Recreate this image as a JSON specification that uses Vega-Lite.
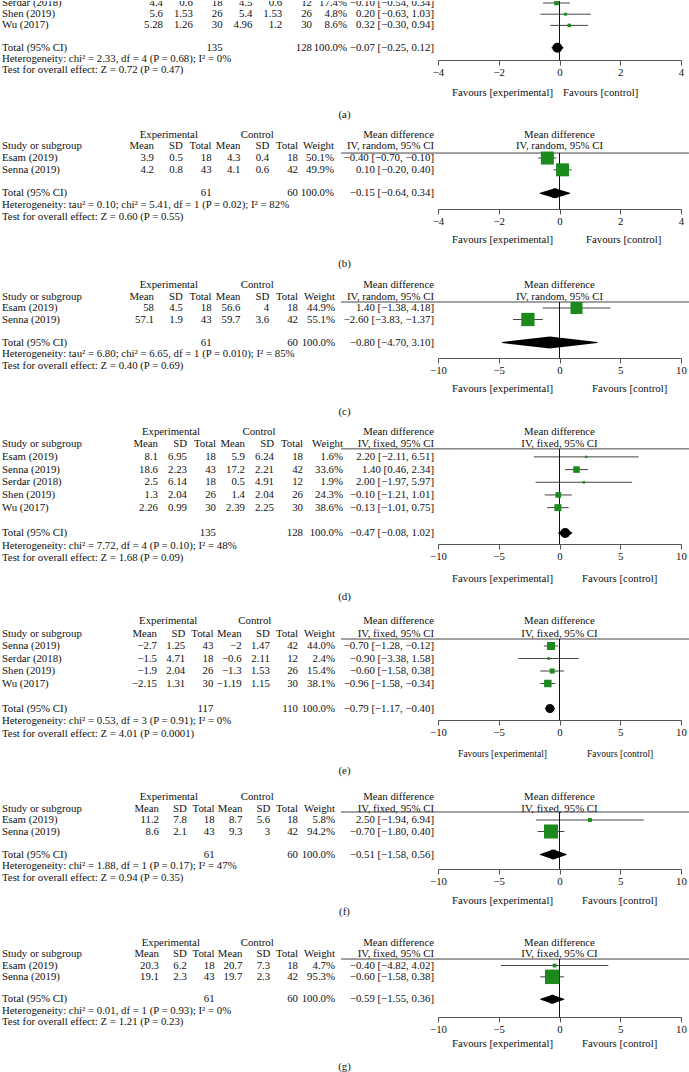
{
"$schema": "https://vega.github.io/schema/vega-lite/v6.json",
"padding": 0,
"spacing": 0,
"bounds": "flush",
"background": "white",
"config": {
  "view": {"stroke": null},
  "text": {"font": "Liberation Serif", "fontSize": 10.8, "color": "#111"},
  "axis": {"labelFont": "Liberation Serif", "labelFontSize": 10.8, "labelColor": "#111", "domainColor": "#555", "tickColor": "#555", "grid": false, "labelFlush": false, "tickSize": 5, "labelPadding": 1}
},
"datasets": {
  "a": [
    {"slot":"r3","study":"Serdar (2018)","me":"4.4","sde":"0.6","ne":"18","mc":"4.5","sdc":"0.6","nc":"12","w":"17.4%","ci":"−0.10 [−0.54, 0.34]","md":-0.10,"lo":-0.54,"hi":0.34,"wt":17.4},
    {"slot":"r4","study":"Shen (2019)","me":"5.6","sde":"1.53","ne":"26","mc":"5.4","sdc":"1.53","nc":"26","w":"4.8%","ci":"0.20 [−0.63, 1.03]","md":0.20,"lo":-0.63,"hi":1.03,"wt":4.8},
    {"slot":"r5","study":"Wu (2017)","me":"5.28","sde":"1.26","ne":"30","mc":"4.96","sdc":"1.2","nc":"30","w":"8.6%","ci":"0.32 [−0.30, 0.94]","md":0.32,"lo":-0.30,"hi":0.94,"wt":8.6},
    {"slot":"tot","study":"Total (95% CI)","ne":"135","nc":"128","w":"100.0%","ci":"−0.07 [−0.25, 0.12]","md":-0.07,"lo":-0.25,"hi":0.12},
    {"slot":"het","study":"Heterogeneity: chi² = 2.33, df = 4 (P = 0.68); I² = 0%"},
    {"slot":"test","study":"Test for overall effect: Z = 0.72 (P = 0.47)"},
    {"slot":"fav","fe":"Favours [experimental]","fc":"Favours [control]"},
    {"slot":"cap","cap":"(a)"}
  ],
  "b": [
    {"slot":"h1","eh":"Experimental","ch":"Control","ci":"Mean difference"},
    {"slot":"h2","study":"Study or subgroup","me":"Mean","sde":"SD","ne":"Total","mc":"Mean","sdc":"SD","nc":"Total","w":"Weight","ci":"IV, random, 95% CI"},
    {"slot":"r1","study":"Esam (2019)","me":"3.9","sde":"0.5","ne":"18","mc":"4.3","sdc":"0.4","nc":"18","w":"50.1%","ci":"−0.40 [−0.70, −0.10]","md":-0.40,"lo":-0.70,"hi":-0.10,"wt":50.1},
    {"slot":"r2","study":"Senna (2019)","me":"4.2","sde":"0.8","ne":"43","mc":"4.1","sdc":"0.6","nc":"42","w":"49.9%","ci":"0.10 [−0.20, 0.40]","md":0.10,"lo":-0.20,"hi":0.40,"wt":49.9},
    {"slot":"tot","study":"Total (95% CI)","ne":"61","nc":"60","w":"100.0%","ci":"−0.15 [−0.64, 0.34]","md":-0.15,"lo":-0.64,"hi":0.34},
    {"slot":"het","study":"Heterogeneity: tau² = 0.10; chi² = 5.41, df = 1 (P = 0.02); I² = 82%"},
    {"slot":"test","study":"Test for overall effect: Z = 0.60 (P = 0.55)"},
    {"slot":"fav","fe":"Favours [experimental]","fc":"Favours [control]"},
    {"slot":"cap","cap":"(b)"}
  ],
  "c": [
    {"slot":"h1","eh":"Experimental","ch":"Control","ci":"Mean difference"},
    {"slot":"h2","study":"Study or subgroup","me":"Mean","sde":"SD","ne":"Total","mc":"Mean","sdc":"SD","nc":"Total","w":"Weight","ci":"IV, random, 95% CI"},
    {"slot":"r1","study":"Esam (2019)","me":"58","sde":"4.5","ne":"18","mc":"56.6","sdc":"4","nc":"18","w":"44.9%","ci":"1.40 [−1.38, 4.18]","md":1.40,"lo":-1.38,"hi":4.18,"wt":44.9},
    {"slot":"r2","study":"Senna (2019)","me":"57.1","sde":"1.9","ne":"43","mc":"59.7","sdc":"3.6","nc":"42","w":"55.1%","ci":"−2.60 [−3.83, −1.37]","md":-2.60,"lo":-3.83,"hi":-1.37,"wt":55.1},
    {"slot":"tot","study":"Total (95% CI)","ne":"61","nc":"60","w":"100.0%","ci":"−0.80 [−4.70, 3.10]","md":-0.80,"lo":-4.70,"hi":3.10},
    {"slot":"het","study":"Heterogeneity: tau² = 6.80; chi² = 6.65, df = 1 (P = 0.010); I² = 85%"},
    {"slot":"test","study":"Test for overall effect: Z = 0.40 (P = 0.69)"},
    {"slot":"fav","fe":"Favours [experimental]","fc":"Favours [control]"},
    {"slot":"cap","cap":"(c)"}
  ],
  "d": [
    {"slot":"h1","eh":"Experimental","ch":"Control","ci":"Mean difference"},
    {"slot":"h2","study":"Study or subgroup","me":"Mean","sde":"SD","ne":"Total","mc":"Mean","sdc":"SD","nc":"Total","w":"Weight","ci":"IV, fixed, 95% CI"},
    {"slot":"r1","study":"Esam (2019)","me":"8.1","sde":"6.95","ne":"18","mc":"5.9","sdc":"6.24","nc":"18","w":"1.6%","ci":"2.20 [−2.11, 6.51]","md":2.20,"lo":-2.11,"hi":6.51,"wt":1.6},
    {"slot":"r2","study":"Senna (2019)","me":"18.6","sde":"2.23","ne":"43","mc":"17.2","sdc":"2.21","nc":"42","w":"33.6%","ci":"1.40 [0.46, 2.34]","md":1.40,"lo":0.46,"hi":2.34,"wt":33.6},
    {"slot":"r3","study":"Serdar (2018)","me":"2.5","sde":"6.14","ne":"18","mc":"0.5","sdc":"4.91","nc":"12","w":"1.9%","ci":"2.00 [−1.97, 5.97]","md":2.00,"lo":-1.97,"hi":5.97,"wt":1.9},
    {"slot":"r4","study":"Shen (2019)","me":"1.3","sde":"2.04","ne":"26","mc":"1.4","sdc":"2.04","nc":"26","w":"24.3%","ci":"−0.10 [−1.21, 1.01]","md":-0.10,"lo":-1.21,"hi":1.01,"wt":24.3},
    {"slot":"r5","study":"Wu (2017)","me":"2.26","sde":"0.99","ne":"30","mc":"2.39","sdc":"2.25","nc":"30","w":"38.6%","ci":"−0.13 [−1.01, 0.75]","md":-0.13,"lo":-1.01,"hi":0.75,"wt":38.6},
    {"slot":"tot","study":"Total (95% CI)","ne":"135","nc":"128","w":"100.0%","ci":"−0.47 [−0.08, 1.02]","md":0.47,"lo":-0.08,"hi":1.02},
    {"slot":"het","study":"Heterogeneity: chi² = 7.72, df = 4 (P = 0.10); I² = 48%"},
    {"slot":"test","study":"Test for overall effect: Z = 1.68 (P = 0.09)"},
    {"slot":"fav","fe":"Favours [experimental]","fc":"Favours [control]"},
    {"slot":"cap","cap":"(d)"}
  ],
  "e": [
    {"slot":"h1","eh":"Experimental","ch":"Control","ci":"Mean difference"},
    {"slot":"h2","study":"Study or subgroup","me":"Mean","sde":"SD","ne":"Total","mc":"Mean","sdc":"SD","nc":"Total","w":"Weight","ci":"IV, fixed, 95% CI"},
    {"slot":"r1","study":"Senna (2019)","me":"−2.7","sde":"1.25","ne":"43","mc":"−2","sdc":"1.47","nc":"42","w":"44.0%","ci":"−0.70 [−1.28, −0.12]","md":-0.70,"lo":-1.28,"hi":-0.12,"wt":44.0},
    {"slot":"r2","study":"Serdar (2018)","me":"−1.5","sde":"4.71","ne":"18","mc":"−0.6","sdc":"2.11","nc":"12","w":"2.4%","ci":"−0.90 [−3.38, 1.58]","md":-0.90,"lo":-3.38,"hi":1.58,"wt":2.4},
    {"slot":"r3","study":"Shen (2019)","me":"−1.9","sde":"2.04","ne":"26","mc":"−1.3","sdc":"1.53","nc":"26","w":"15.4%","ci":"−0.60 [−1.58, 0.38]","md":-0.60,"lo":-1.58,"hi":0.38,"wt":15.4},
    {"slot":"r4","study":"Wu (2017)","me":"−2.15","sde":"1.31","ne":"30","mc":"−1.19","sdc":"1.15","nc":"30","w":"38.1%","ci":"−0.96 [−1.58, −0.34]","md":-0.96,"lo":-1.58,"hi":-0.34,"wt":38.1},
    {"slot":"tot","study":"Total (95% CI)","ne":"117","nc":"110","w":"100.0%","ci":"−0.79 [−1.17, −0.40]","md":-0.79,"lo":-1.17,"hi":-0.40},
    {"slot":"het","study":"Heterogeneity: chi² = 0.53, df = 3 (P = 0.91); I² = 0%"},
    {"slot":"test","study":"Test for overall effect: Z = 4.01 (P = 0.0001)"},
    {"slot":"fav","fe":"Favours [experimental]","fc":"Favours [control]"},
    {"slot":"cap","cap":"(e)"}
  ],
  "f": [
    {"slot":"h1","eh":"Experimental","ch":"Control","ci":"Mean difference"},
    {"slot":"h2","study":"Study or subgroup","me":"Mean","sde":"SD","ne":"Total","mc":"Mean","sdc":"SD","nc":"Total","w":"Weight","ci":"IV, fixed, 95% CI"},
    {"slot":"r1","study":"Esam (2019)","me":"11.2","sde":"7.8","ne":"18","mc":"8.7","sdc":"5.6","nc":"18","w":"5.8%","ci":"2.50 [−1.94, 6.94]","md":2.50,"lo":-1.94,"hi":6.94,"wt":5.8},
    {"slot":"r2","study":"Senna (2019)","me":"8.6","sde":"2.1","ne":"43","mc":"9.3","sdc":"3","nc":"42","w":"94.2%","ci":"−0.70 [−1.80, 0.40]","md":-0.70,"lo":-1.80,"hi":0.40,"wt":94.2},
    {"slot":"tot","study":"Total (95% CI)","ne":"61","nc":"60","w":"100.0%","ci":"−0.51 [−1.58, 0.56]","md":-0.51,"lo":-1.58,"hi":0.56},
    {"slot":"het","study":"Heterogeneity: chi² = 1.88, df = 1 (P = 0.17); I² = 47%"},
    {"slot":"test","study":"Test for overall effect: Z = 0.94 (P = 0.35)"},
    {"slot":"fav","fe":"Favours [experimental]","fc":"Favours [control]"},
    {"slot":"cap","cap":"(f)"}
  ],
  "g": [
    {"slot":"h1","eh":"Experimental","ch":"Control","ci":"Mean difference"},
    {"slot":"h2","study":"Study or subgroup","me":"Mean","sde":"SD","ne":"Total","mc":"Mean","sdc":"SD","nc":"Total","w":"Weight","ci":"IV, fixed, 95% CI"},
    {"slot":"r1","study":"Esam (2019)","me":"20.3","sde":"6.2","ne":"18","mc":"20.7","sdc":"7.3","nc":"18","w":"4.7%","ci":"−0.40 [−4.82, 4.02]","md":-0.40,"lo":-4.82,"hi":4.02,"wt":4.7},
    {"slot":"r2","study":"Senna (2019)","me":"19.1","sde":"2.3","ne":"43","mc":"19.7","sdc":"2.3","nc":"42","w":"95.3%","ci":"−0.60 [−1.58, 0.38]","md":-0.60,"lo":-1.58,"hi":0.38,"wt":95.3},
    {"slot":"tot","study":"Total (95% CI)","ne":"61","nc":"60","w":"100.0%","ci":"−0.59 [−1.55, 0.36]","md":-0.59,"lo":-1.55,"hi":0.36},
    {"slot":"het","study":"Heterogeneity: chi² = 0.01, df = 1 (P = 0.93); I² = 0%"},
    {"slot":"test","study":"Test for overall effect: Z = 1.21 (P = 0.23)"},
    {"slot":"fav","fe":"Favours [experimental]","fc":"Favours [control]"},
    {"slot":"cap","cap":"(g)"}
  ]
},
"vconcat": [
{
  "width": 689, "height": 132,
  "data": {"name": "a"},
  "encoding": {"y": {"field": "slot", "type": "nominal", "axis": null, "scale": {"type": "point", "padding": 0, "domain": ["r3","r4","r5","g","tot","het","test","x1","fav","x2","cap"], "range": [2, 114]}}},
  "resolve": {"scale": {"x": "independent"}, "axis": {"x": "independent"}},
  "layer": [
    {"transform": [{"filter": "isValid(datum.study)"}], "mark": {"type": "text", "align": "left", "dx": 2, "clip": true}, "encoding": {"x": {"value": 0}, "text": {"field": "study"}}},
    {"transform": [{"filter": "isValid(datum.cap)"}], "mark": {"type": "text", "align": "center", "clip": true}, "encoding": {"x": {"value": {"expr": "width / 2"}}, "text": {"field": "cap"}}},
    {"transform": [{"fold": ["me","sde","ne","mc","sdc","nc"], "as": ["key","val"]}, {"filter": "isValid(datum.val)"}], "mark": {"type": "text", "align": "right", "clip": true}, "encoding": {"x": {"field": "key", "type": "nominal", "axis": null, "scale": {"type": "point", "padding": 0, "domain": ["me","sde","ne","mc","sdc","nc"], "range": [163, 312]}}, "text": {"field": "val"}}},
    {"transform": [{"filter": "isValid(datum.w)"}], "mark": {"type": "text", "align": "right", "dx": 35, "clip": true}, "encoding": {"x": {"datum": "nc", "type": "nominal", "axis": null, "scale": {"type": "point", "padding": 0, "domain": ["me","sde","ne","mc","sdc","nc"], "range": [163, 312]}}, "text": {"field": "w"}}},
    {"transform": [{"filter": "isValid(datum.wt)"}], "mark": {"type": "rule", "color": "#444", "strokeWidth": 1, "clip": true}, "encoding": {"x": {"field": "lo", "type": "quantitative", "scale": {"domain": [-4, 4], "range": [438, 681], "nice": false, "zero": false}, "axis": {"orient": "bottom", "offset": -73, "values": [-4, -2, 0, 2, 4], "title": null, "format": "d", "encode": {"ticks": {"update": {"y": {"value": -5}}}}}}, "x2": {"field": "hi"}}},
    {"transform": [{"filter": "isValid(datum.ci)"}], "mark": {"type": "text", "align": "right", "dx": -4, "clip": true}, "encoding": {"x": {"datum": -4, "type": "quantitative", "axis": null, "scale": {"domain": [-4, 4], "range": [438, 681], "nice": false, "zero": false}}, "text": {"field": "ci"}}},
    {"transform": [{"filter": "datum.slot == 'cap'"}], "mark": {"type": "rule", "color": "#111", "strokeWidth": 1, "yOffset": 0, "y2Offset": -73}, "encoding": {"x": {"datum": 0, "type": "quantitative", "axis": null, "scale": {"domain": [-4, 4], "range": [438, 681], "nice": false, "zero": false}}, "y": {"value": 0}, "y2": {"value": "height"}}},
    {"transform": [{"filter": "isValid(datum.wt)"}], "mark": {"type": "point", "shape": "square", "filled": true, "opacity": 1, "color": "#1c8a1c", "strokeWidth": 0, "clip": true}, "encoding": {"x": {"field": "md", "type": "quantitative", "axis": null, "scale": {"domain": [-4, 4], "range": [438, 681], "nice": false, "zero": false}}, "size": {"field": "wt", "type": "quantitative", "legend": null, "scale": {"domain": [0, 100], "range": [4, 100]}}}},
    {"transform": [{"filter": "datum.slot == 'tot'"}, {"fold": ["lo","md","hi"], "as": ["vk","vx"]}], "mark": {"type": "trail", "color": "#000", "clip": true}, "encoding": {"x": {"field": "vx", "type": "quantitative", "axis": null, "scale": {"domain": [-4, 4], "range": [438, 681], "nice": false, "zero": false}}, "size": {"field": "vk", "type": "nominal", "legend": null, "scale": {"type": "ordinal", "domain": ["lo","md","hi"], "range": [0, 10, 0]}}, "order": {"field": "vx", "type": "quantitative"}}},
    {"transform": [{"filter": "isValid(datum.fe)"}], "mark": {"type": "text", "align": "right", "dx": -6.5, "clip": true}, "encoding": {"x": {"datum": 0, "type": "quantitative", "axis": null, "scale": {"domain": [-4, 4], "range": [438, 681], "nice": false, "zero": false}}, "text": {"field": "fe"}}},
    {"transform": [{"filter": "isValid(datum.fc)"}], "mark": {"type": "text", "align": "left", "dx": 3.5, "clip": true}, "encoding": {"x": {"datum": 0, "type": "quantitative", "axis": null, "scale": {"domain": [-4, 4], "range": [438, 681], "nice": false, "zero": false}}, "text": {"field": "fc"}}}
  ]
},
{
  "width": 689, "height": 150,
  "data": {"name": "b"},
  "encoding": {"y": {"field": "slot", "type": "nominal", "axis": null, "scale": {"type": "point", "padding": 0, "domain": ["h1","h2","r1","r2","g","tot","het","test","x1","fav","x2","cap"], "range": [1.5, 131]}}},
  "resolve": {"scale": {"x": "independent"}, "axis": {"x": "independent"}},
  "layer": [
    {"transform": [{"filter": "isValid(datum.study)"}], "mark": {"type": "text", "align": "left", "dx": 2}, "encoding": {"x": {"value": 0}, "text": {"field": "study"}}},
    {"transform": [{"filter": "isValid(datum.cap)"}], "mark": {"type": "text", "align": "center"}, "encoding": {"x": {"value": {"expr": "width / 2"}}, "text": {"field": "cap"}}},
    {"transform": [{"fold": ["me","sde","ne","mc","sdc","nc"], "as": ["key","val"]}, {"filter": "isValid(datum.val)"}], "mark": {"type": "text", "align": "right"}, "encoding": {"x": {"field": "key", "type": "nominal", "axis": null, "scale": {"type": "point", "padding": 0, "domain": ["me","sde","ne","mc","sdc","nc"], "range": [154, 298]}}, "text": {"field": "val"}}},
    {"transform": [{"filter": "isValid(datum.w)"}], "mark": {"type": "text", "align": "right", "dx": 36}, "encoding": {"x": {"datum": "nc", "type": "nominal", "axis": null, "scale": {"type": "point", "padding": 0, "domain": ["me","sde","ne","mc","sdc","nc"], "range": [154, 298]}}, "text": {"field": "w"}}},
    {"transform": [{"filter": "isValid(datum.eh)"}], "mark": {"type": "text", "align": "center", "dx": -14}, "encoding": {"x": {"datum": "sde", "type": "nominal", "axis": null, "scale": {"type": "point", "padding": 0, "domain": ["me","sde","ne","mc","sdc","nc"], "range": [154, 298]}}, "text": {"field": "eh"}}},
    {"transform": [{"filter": "isValid(datum.ch)"}], "mark": {"type": "text", "align": "center", "dx": -12}, "encoding": {"x": {"datum": "sdc", "type": "nominal", "axis": null, "scale": {"type": "point", "padding": 0, "domain": ["me","sde","ne","mc","sdc","nc"], "range": [154, 298]}}, "text": {"field": "ch"}}},
    {"transform": [{"filter": "isValid(datum.wt)"}], "mark": {"type": "rule", "color": "#444", "strokeWidth": 1}, "encoding": {"x": {"field": "lo", "type": "quantitative", "scale": {"domain": [-4, 4], "range": [438, 681], "nice": false, "zero": false}, "axis": {"orient": "bottom", "offset": -74, "values": [-4, -2, 0, 2, 4], "title": null, "format": "d", "encode": {"ticks": {"update": {"y": {"value": -5}}}}}}, "x2": {"field": "hi"}}},
    {"transform": [{"filter": "isValid(datum.ci)"}], "mark": {"type": "text", "align": "right", "dx": -4}, "encoding": {"x": {"datum": -4, "type": "quantitative", "axis": null, "scale": {"domain": [-4, 4], "range": [438, 681], "nice": false, "zero": false}}, "text": {"field": "ci"}}},
    {"transform": [{"filter": "datum.slot == 'h1' || datum.slot == 'h2'"}], "mark": {"type": "text", "align": "center"}, "encoding": {"x": {"datum": 0, "type": "quantitative", "axis": null, "scale": {"domain": [-4, 4], "range": [438, 681], "nice": false, "zero": false}}, "text": {"field": "ci"}}},
    {"transform": [{"filter": "datum.slot == 'cap'"}], "mark": {"type": "rule", "color": "#444", "strokeWidth": 1, "yOffset": -5}, "encoding": {"x": {"datum": -7.19, "type": "quantitative", "axis": null, "scale": {"domain": [-4, 4], "range": [438, 681], "nice": false, "zero": false}}, "x2": {"datum": 4.26}, "y": {"datum": "r1", "type": "nominal"}}},
    {"transform": [{"filter": "datum.slot == 'cap'"}], "mark": {"type": "rule", "color": "#111", "strokeWidth": 1, "yOffset": 20, "y2Offset": -74}, "encoding": {"x": {"datum": 0, "type": "quantitative", "axis": null, "scale": {"domain": [-4, 4], "range": [438, 681], "nice": false, "zero": false}}, "y": {"value": 0}, "y2": {"value": "height"}}},
    {"transform": [{"filter": "isValid(datum.wt)"}], "mark": {"type": "point", "shape": "square", "filled": true, "opacity": 1, "color": "#1c8a1c", "strokeWidth": 0}, "encoding": {"x": {"field": "md", "type": "quantitative", "axis": null, "scale": {"domain": [-4, 4], "range": [438, 681], "nice": false, "zero": false}}, "size": {"field": "wt", "type": "quantitative", "legend": null, "scale": {"domain": [0, 100], "range": [4, 333]}}}},
    {"transform": [{"filter": "datum.slot == 'tot'"}, {"fold": ["lo","md","hi"], "as": ["vk","vx"]}], "mark": {"type": "trail", "color": "#000"}, "encoding": {"x": {"field": "vx", "type": "quantitative", "axis": null, "scale": {"domain": [-4, 4], "range": [438, 681], "nice": false, "zero": false}}, "size": {"field": "vk", "type": "nominal", "legend": null, "scale": {"type": "ordinal", "domain": ["lo","md","hi"], "range": [0, 10, 0]}}, "order": {"field": "vx", "type": "quantitative"}}},
    {"transform": [{"filter": "isValid(datum.fe)"}], "mark": {"type": "text", "align": "right", "dx": -6.5}, "encoding": {"x": {"datum": 0, "type": "quantitative", "axis": null, "scale": {"domain": [-4, 4], "range": [438, 681], "nice": false, "zero": false}}, "text": {"field": "fe"}}},
    {"transform": [{"filter": "isValid(datum.fc)"}], "mark": {"type": "text", "align": "left", "dx": 26.5}, "encoding": {"x": {"datum": 0, "type": "quantitative", "axis": null, "scale": {"domain": [-4, 4], "range": [438, 681], "nice": false, "zero": false}}, "text": {"field": "fc"}}}
  ]
},
{
  "width": 689, "height": 147,
  "data": {"name": "c"},
  "encoding": {"y": {"field": "slot", "type": "nominal", "axis": null, "scale": {"type": "point", "padding": 0, "domain": ["h1","h2","r1","r2","g","tot","het","test","x1","fav","x2","cap"], "range": [2, 128.5]}}},
  "resolve": {"scale": {"x": "independent"}, "axis": {"x": "independent"}},
  "layer": [
    {"transform": [{"filter": "isValid(datum.study)"}], "mark": {"type": "text", "align": "left", "dx": 2}, "encoding": {"x": {"value": 0}, "text": {"field": "study"}}},
    {"transform": [{"filter": "isValid(datum.cap)"}], "mark": {"type": "text", "align": "center"}, "encoding": {"x": {"value": {"expr": "width / 2"}}, "text": {"field": "cap"}}},
    {"transform": [{"fold": ["me","sde","ne","mc","sdc","nc"], "as": ["key","val"]}, {"filter": "isValid(datum.val)"}], "mark": {"type": "text", "align": "right"}, "encoding": {"x": {"field": "key", "type": "nominal", "axis": null, "scale": {"type": "point", "padding": 0, "domain": ["me","sde","ne","mc","sdc","nc"], "range": [154, 298]}}, "text": {"field": "val"}}},
    {"transform": [{"filter": "isValid(datum.w)"}], "mark": {"type": "text", "align": "right", "dx": 37}, "encoding": {"x": {"datum": "nc", "type": "nominal", "axis": null, "scale": {"type": "point", "padding": 0, "domain": ["me","sde","ne","mc","sdc","nc"], "range": [154, 298]}}, "text": {"field": "w"}}},
    {"transform": [{"filter": "isValid(datum.eh)"}], "mark": {"type": "text", "align": "center", "dx": -14}, "encoding": {"x": {"datum": "sde", "type": "nominal", "axis": null, "scale": {"type": "point", "padding": 0, "domain": ["me","sde","ne","mc","sdc","nc"], "range": [154, 298]}}, "text": {"field": "eh"}}},
    {"transform": [{"filter": "isValid(datum.ch)"}], "mark": {"type": "text", "align": "center", "dx": -12}, "encoding": {"x": {"datum": "sdc", "type": "nominal", "axis": null, "scale": {"type": "point", "padding": 0, "domain": ["me","sde","ne","mc","sdc","nc"], "range": [154, 298]}}, "text": {"field": "ch"}}},
    {"transform": [{"filter": "isValid(datum.wt)"}], "mark": {"type": "rule", "color": "#444", "strokeWidth": 1}, "encoding": {"x": {"field": "lo", "type": "quantitative", "scale": {"domain": [-10, 10], "range": [438, 681], "nice": false, "zero": false}, "axis": {"orient": "bottom", "offset": -72, "values": [-10, -5, 0, 5, 10], "title": null, "format": "d", "encode": {"ticks": {"update": {"y": {"value": -5}}}}}}, "x2": {"field": "hi"}}},
    {"transform": [{"filter": "isValid(datum.ci)"}], "mark": {"type": "text", "align": "right", "dx": -4}, "encoding": {"x": {"datum": -10, "type": "quantitative", "axis": null, "scale": {"domain": [-10, 10], "range": [438, 681], "nice": false, "zero": false}}, "text": {"field": "ci"}}},
    {"transform": [{"filter": "datum.slot == 'h1' || datum.slot == 'h2'"}], "mark": {"type": "text", "align": "center"}, "encoding": {"x": {"datum": 0, "type": "quantitative", "axis": null, "scale": {"domain": [-10, 10], "range": [438, 681], "nice": false, "zero": false}}, "text": {"field": "ci"}}},
    {"transform": [{"filter": "datum.slot == 'cap'"}], "mark": {"type": "rule", "color": "#444", "strokeWidth": 1, "yOffset": -6}, "encoding": {"x": {"datum": -17.98, "type": "quantitative", "axis": null, "scale": {"domain": [-10, 10], "range": [438, 681], "nice": false, "zero": false}}, "x2": {"datum": 10.66}, "y": {"datum": "r1", "type": "nominal"}}},
    {"transform": [{"filter": "datum.slot == 'cap'"}], "mark": {"type": "rule", "color": "#111", "strokeWidth": 1, "yOffset": 19, "y2Offset": -72}, "encoding": {"x": {"datum": 0, "type": "quantitative", "axis": null, "scale": {"domain": [-10, 10], "range": [438, 681], "nice": false, "zero": false}}, "y": {"value": 0}, "y2": {"value": "height"}}},
    {"transform": [{"filter": "isValid(datum.wt)"}], "mark": {"type": "point", "shape": "square", "filled": true, "opacity": 1, "color": "#1c8a1c", "strokeWidth": 0}, "encoding": {"x": {"field": "md", "type": "quantitative", "axis": null, "scale": {"domain": [-10, 10], "range": [438, 681], "nice": false, "zero": false}}, "size": {"field": "wt", "type": "quantitative", "legend": null, "scale": {"domain": [0, 100], "range": [4, 316]}}}},
    {"transform": [{"filter": "datum.slot == 'tot'"}, {"fold": ["lo","md","hi"], "as": ["vk","vx"]}], "mark": {"type": "trail", "color": "#000"}, "encoding": {"x": {"field": "vx", "type": "quantitative", "axis": null, "scale": {"domain": [-10, 10], "range": [438, 681], "nice": false, "zero": false}}, "size": {"field": "vk", "type": "nominal", "legend": null, "scale": {"type": "ordinal", "domain": ["lo","md","hi"], "range": [0, 12, 0]}}, "order": {"field": "vx", "type": "quantitative"}}},
    {"transform": [{"filter": "isValid(datum.fe)"}], "mark": {"type": "text", "align": "right", "dx": -6.5}, "encoding": {"x": {"datum": 0, "type": "quantitative", "axis": null, "scale": {"domain": [-10, 10], "range": [438, 681], "nice": false, "zero": false}}, "text": {"field": "fe"}}},
    {"transform": [{"filter": "isValid(datum.fc)"}], "mark": {"type": "text", "align": "left", "dx": 32.5}, "encoding": {"x": {"datum": 0, "type": "quantitative", "axis": null, "scale": {"domain": [-10, 10], "range": [438, 681], "nice": false, "zero": false}}, "text": {"field": "fc"}}}
  ]
},
{
  "width": 689, "height": 188,
  "data": {"name": "d"},
  "encoding": {"y": {"field": "slot", "type": "nominal", "axis": null, "scale": {"type": "point", "padding": 0, "domain": ["h1","h2","r1","r2","r3","r4","r5","g","tot","het","test","x1","fav","cap"], "range": [1.5, 166.5]}}},
  "resolve": {"scale": {"x": "independent"}, "axis": {"x": "independent"}},
  "layer": [
    {"transform": [{"filter": "isValid(datum.study)"}], "mark": {"type": "text", "align": "left", "dx": 2}, "encoding": {"x": {"value": 0}, "text": {"field": "study"}}},
    {"transform": [{"filter": "isValid(datum.cap)"}], "mark": {"type": "text", "align": "center"}, "encoding": {"x": {"value": {"expr": "width / 2"}}, "text": {"field": "cap"}}},
    {"transform": [{"fold": ["me","sde","ne","mc","sdc","nc"], "as": ["key","val"]}, {"filter": "isValid(datum.val)"}], "mark": {"type": "text", "align": "right"}, "encoding": {"x": {"field": "key", "type": "nominal", "axis": null, "scale": {"type": "point", "padding": 0, "domain": ["me","sde","ne","mc","sdc","nc"], "range": [158, 303]}}, "text": {"field": "val"}}},
    {"transform": [{"filter": "isValid(datum.w)"}], "mark": {"type": "text", "align": "right", "dx": 40}, "encoding": {"x": {"datum": "nc", "type": "nominal", "axis": null, "scale": {"type": "point", "padding": 0, "domain": ["me","sde","ne","mc","sdc","nc"], "range": [158, 303]}}, "text": {"field": "w"}}},
    {"transform": [{"filter": "isValid(datum.eh)"}], "mark": {"type": "text", "align": "center", "dx": -16}, "encoding": {"x": {"datum": "sde", "type": "nominal", "axis": null, "scale": {"type": "point", "padding": 0, "domain": ["me","sde","ne","mc","sdc","nc"], "range": [158, 303]}}, "text": {"field": "eh"}}},
    {"transform": [{"filter": "isValid(datum.ch)"}], "mark": {"type": "text", "align": "center", "dx": -15}, "encoding": {"x": {"datum": "sdc", "type": "nominal", "axis": null, "scale": {"type": "point", "padding": 0, "domain": ["me","sde","ne","mc","sdc","nc"], "range": [158, 303]}}, "text": {"field": "ch"}}},
    {"transform": [{"filter": "isValid(datum.wt)"}], "mark": {"type": "rule", "color": "#444", "strokeWidth": 1}, "encoding": {"x": {"field": "lo", "type": "quantitative", "scale": {"domain": [-10, 10], "range": [438, 681], "nice": false, "zero": false}, "axis": {"orient": "bottom", "offset": -74, "values": [-10, -5, 0, 5, 10], "title": null, "format": "d", "encode": {"ticks": {"update": {"y": {"value": -5}}}}}}, "x2": {"field": "hi"}}},
    {"transform": [{"filter": "isValid(datum.ci)"}], "mark": {"type": "text", "align": "right", "dx": -4}, "encoding": {"x": {"datum": -10, "type": "quantitative", "axis": null, "scale": {"domain": [-10, 10], "range": [438, 681], "nice": false, "zero": false}}, "text": {"field": "ci"}}},
    {"transform": [{"filter": "datum.slot == 'h1' || datum.slot == 'h2'"}], "mark": {"type": "text", "align": "center"}, "encoding": {"x": {"datum": 0, "type": "quantitative", "axis": null, "scale": {"domain": [-10, 10], "range": [438, 681], "nice": false, "zero": false}}, "text": {"field": "ci"}}},
    {"transform": [{"filter": "datum.slot == 'cap'"}], "mark": {"type": "rule", "color": "#444", "strokeWidth": 1, "yOffset": -8}, "encoding": {"x": {"datum": -17.98, "type": "quantitative", "axis": null, "scale": {"domain": [-10, 10], "range": [438, 681], "nice": false, "zero": false}}, "x2": {"datum": 10.66}, "y": {"datum": "r1", "type": "nominal"}}},
    {"transform": [{"filter": "datum.slot == 'cap'"}], "mark": {"type": "rule", "color": "#111", "strokeWidth": 1, "yOffset": 19, "y2Offset": -74}, "encoding": {"x": {"datum": 0, "type": "quantitative", "axis": null, "scale": {"domain": [-10, 10], "range": [438, 681], "nice": false, "zero": false}}, "y": {"value": 0}, "y2": {"value": "height"}}},
    {"transform": [{"filter": "isValid(datum.wt)"}], "mark": {"type": "point", "shape": "square", "filled": true, "opacity": 1, "color": "#1c8a1c", "strokeWidth": 0}, "encoding": {"x": {"field": "md", "type": "quantitative", "axis": null, "scale": {"domain": [-10, 10], "range": [438, 681], "nice": false, "zero": false}}, "size": {"field": "wt", "type": "quantitative", "legend": null, "scale": {"domain": [0, 100], "range": [4, 120]}}}},
    {"transform": [{"filter": "datum.slot == 'tot'"}, {"fold": ["lo","md","hi"], "as": ["vk","vx"]}], "mark": {"type": "trail", "color": "#000"}, "encoding": {"x": {"field": "vx", "type": "quantitative", "axis": null, "scale": {"domain": [-10, 10], "range": [438, 681], "nice": false, "zero": false}}, "size": {"field": "vk", "type": "nominal", "legend": null, "scale": {"type": "ordinal", "domain": ["lo","md","hi"], "range": [0, 10, 0]}}, "order": {"field": "vx", "type": "quantitative"}}},
    {"transform": [{"filter": "isValid(datum.fe)"}], "mark": {"type": "text", "align": "right", "dx": -6.5, "dy": -5}, "encoding": {"x": {"datum": 0, "type": "quantitative", "axis": null, "scale": {"domain": [-10, 10], "range": [438, 681], "nice": false, "zero": false}}, "text": {"field": "fe"}}},
    {"transform": [{"filter": "isValid(datum.fc)"}], "mark": {"type": "text", "align": "left", "dx": 22.5, "dy": -5}, "encoding": {"x": {"datum": 0, "type": "quantitative", "axis": null, "scale": {"domain": [-10, 10], "range": [438, 681], "nice": false, "zero": false}}, "text": {"field": "fc"}}}
  ]
},
{
  "width": 689, "height": 178,
  "data": {"name": "e"},
  "encoding": {"y": {"field": "slot", "type": "nominal", "axis": null, "scale": {"type": "point", "padding": 0, "domain": ["h1","h2","r1","r2","r3","r4","g","tot","het","test","x1","fav","cap"], "range": [3, 153]}}},
  "resolve": {"scale": {"x": "independent"}, "axis": {"x": "independent"}},
  "layer": [
    {"transform": [{"filter": "isValid(datum.study)"}], "mark": {"type": "text", "align": "left", "dx": 2}, "encoding": {"x": {"value": 0}, "text": {"field": "study"}}},
    {"transform": [{"filter": "isValid(datum.cap)"}], "mark": {"type": "text", "align": "center"}, "encoding": {"x": {"value": {"expr": "width / 2"}}, "text": {"field": "cap"}}},
    {"transform": [{"fold": ["me","sde","ne","mc","sdc","nc"], "as": ["key","val"]}, {"filter": "isValid(datum.val)"}], "mark": {"type": "text", "align": "right"}, "encoding": {"x": {"field": "key", "type": "nominal", "axis": null, "scale": {"type": "point", "padding": 0, "domain": ["me","sde","ne","mc","sdc","nc"], "range": [157, 298]}}, "text": {"field": "val"}}},
    {"transform": [{"filter": "isValid(datum.w)"}], "mark": {"type": "text", "align": "right", "dx": 37}, "encoding": {"x": {"datum": "nc", "type": "nominal", "axis": null, "scale": {"type": "point", "padding": 0, "domain": ["me","sde","ne","mc","sdc","nc"], "range": [157, 298]}}, "text": {"field": "w"}}},
    {"transform": [{"filter": "isValid(datum.eh)"}], "mark": {"type": "text", "align": "center", "dx": -17}, "encoding": {"x": {"datum": "sde", "type": "nominal", "axis": null, "scale": {"type": "point", "padding": 0, "domain": ["me","sde","ne","mc","sdc","nc"], "range": [157, 298]}}, "text": {"field": "eh"}}},
    {"transform": [{"filter": "isValid(datum.ch)"}], "mark": {"type": "text", "align": "center", "dx": -15}, "encoding": {"x": {"datum": "sdc", "type": "nominal", "axis": null, "scale": {"type": "point", "padding": 0, "domain": ["me","sde","ne","mc","sdc","nc"], "range": [157, 298]}}, "text": {"field": "ch"}}},
    {"transform": [{"filter": "isValid(datum.wt)"}], "mark": {"type": "rule", "color": "#444", "strokeWidth": 1}, "encoding": {"x": {"field": "lo", "type": "quantitative", "scale": {"domain": [-10, 10], "range": [438, 681], "nice": false, "zero": false}, "axis": {"orient": "bottom", "offset": -76, "values": [-10, -5, 0, 5, 10], "title": null, "format": "d", "encode": {"ticks": {"update": {"y": {"value": -5}}}}}}, "x2": {"field": "hi"}}},
    {"transform": [{"filter": "isValid(datum.ci)"}], "mark": {"type": "text", "align": "right", "dx": -4}, "encoding": {"x": {"datum": -10, "type": "quantitative", "axis": null, "scale": {"domain": [-10, 10], "range": [438, 681], "nice": false, "zero": false}}, "text": {"field": "ci"}}},
    {"transform": [{"filter": "datum.slot == 'h1' || datum.slot == 'h2'"}], "mark": {"type": "text", "align": "center"}, "encoding": {"x": {"datum": 0, "type": "quantitative", "axis": null, "scale": {"domain": [-10, 10], "range": [438, 681], "nice": false, "zero": false}}, "text": {"field": "ci"}}},
    {"transform": [{"filter": "datum.slot == 'cap'"}], "mark": {"type": "rule", "color": "#444", "strokeWidth": 1, "yOffset": -7}, "encoding": {"x": {"datum": -17.98, "type": "quantitative", "axis": null, "scale": {"domain": [-10, 10], "range": [438, 681], "nice": false, "zero": false}}, "x2": {"datum": 10.66}, "y": {"datum": "r1", "type": "nominal"}}},
    {"transform": [{"filter": "datum.slot == 'cap'"}], "mark": {"type": "rule", "color": "#111", "strokeWidth": 1, "yOffset": 21, "y2Offset": -76}, "encoding": {"x": {"datum": 0, "type": "quantitative", "axis": null, "scale": {"domain": [-10, 10], "range": [438, 681], "nice": false, "zero": false}}, "y": {"value": 0}, "y2": {"value": "height"}}},
    {"transform": [{"filter": "isValid(datum.wt)"}], "mark": {"type": "point", "shape": "square", "filled": true, "opacity": 1, "color": "#1c8a1c", "strokeWidth": 0}, "encoding": {"x": {"field": "md", "type": "quantitative", "axis": null, "scale": {"domain": [-10, 10], "range": [438, 681], "nice": false, "zero": false}}, "size": {"field": "wt", "type": "quantitative", "legend": null, "scale": {"domain": [0, 100], "range": [4, 140]}}}},
    {"transform": [{"filter": "datum.slot == 'tot'"}, {"fold": ["lo","md","hi"], "as": ["vk","vx"]}], "mark": {"type": "trail", "color": "#000"}, "encoding": {"x": {"field": "vx", "type": "quantitative", "axis": null, "scale": {"domain": [-10, 10], "range": [438, 681], "nice": false, "zero": false}}, "size": {"field": "vk", "type": "nominal", "legend": null, "scale": {"type": "ordinal", "domain": ["lo","md","hi"], "range": [0, 9, 0]}}, "order": {"field": "vx", "type": "quantitative"}}},
    {"transform": [{"filter": "isValid(datum.fe)"}], "mark": {"type": "text", "align": "right", "dx": -12.5, "dy": -5, "fontSize": 9.5}, "encoding": {"x": {"datum": 0, "type": "quantitative", "axis": null, "scale": {"domain": [-10, 10], "range": [438, 681], "nice": false, "zero": false}}, "text": {"field": "fe"}}},
    {"transform": [{"filter": "isValid(datum.fc)"}], "mark": {"type": "text", "align": "left", "dx": 27.5, "dy": -5, "fontSize": 9.5}, "encoding": {"x": {"datum": 0, "type": "quantitative", "axis": null, "scale": {"domain": [-10, 10], "range": [438, 681], "nice": false, "zero": false}}, "text": {"field": "fc"}}}
  ]
},
{
  "width": 689, "height": 144,
  "data": {"name": "f"},
  "encoding": {"y": {"field": "slot", "type": "nominal", "axis": null, "scale": {"type": "point", "padding": 0, "domain": ["h1","h2","r1","r2","g","tot","het","test","x1","fav","cap"], "range": [1, 116]}}},
  "resolve": {"scale": {"x": "independent"}, "axis": {"x": "independent"}},
  "layer": [
    {"transform": [{"filter": "isValid(datum.study)"}], "mark": {"type": "text", "align": "left", "dx": 2}, "encoding": {"x": {"value": 0}, "text": {"field": "study"}}},
    {"transform": [{"filter": "isValid(datum.cap)"}], "mark": {"type": "text", "align": "center"}, "encoding": {"x": {"value": {"expr": "width / 2"}}, "text": {"field": "cap"}}},
    {"transform": [{"fold": ["me","sde","ne","mc","sdc","nc"], "as": ["key","val"]}, {"filter": "isValid(datum.val)"}], "mark": {"type": "text", "align": "right"}, "encoding": {"x": {"field": "key", "type": "nominal", "axis": null, "scale": {"type": "point", "padding": 0, "domain": ["me","sde","ne","mc","sdc","nc"], "range": [159, 298]}}, "text": {"field": "val"}}},
    {"transform": [{"filter": "isValid(datum.w)"}], "mark": {"type": "text", "align": "right", "dx": 37}, "encoding": {"x": {"datum": "nc", "type": "nominal", "axis": null, "scale": {"type": "point", "padding": 0, "domain": ["me","sde","ne","mc","sdc","nc"], "range": [159, 298]}}, "text": {"field": "w"}}},
    {"transform": [{"filter": "isValid(datum.eh)"}], "mark": {"type": "text", "align": "center", "dx": -18}, "encoding": {"x": {"datum": "sde", "type": "nominal", "axis": null, "scale": {"type": "point", "padding": 0, "domain": ["me","sde","ne","mc","sdc","nc"], "range": [159, 298]}}, "text": {"field": "eh"}}},
    {"transform": [{"filter": "isValid(datum.ch)"}], "mark": {"type": "text", "align": "center", "dx": -13}, "encoding": {"x": {"datum": "sdc", "type": "nominal", "axis": null, "scale": {"type": "point", "padding": 0, "domain": ["me","sde","ne","mc","sdc","nc"], "range": [159, 298]}}, "text": {"field": "ch"}}},
    {"transform": [{"filter": "isValid(datum.wt)"}], "mark": {"type": "rule", "color": "#444", "strokeWidth": 1}, "encoding": {"x": {"field": "lo", "type": "quantitative", "scale": {"domain": [-10, 10], "range": [438, 681], "nice": false, "zero": false}, "axis": {"orient": "bottom", "offset": -71, "values": [-10, -5, 0, 5, 10], "title": null, "format": "d", "encode": {"ticks": {"update": {"y": {"value": -5}}}}}}, "x2": {"field": "hi"}}},
    {"transform": [{"filter": "isValid(datum.ci)"}], "mark": {"type": "text", "align": "right", "dx": -4}, "encoding": {"x": {"datum": -10, "type": "quantitative", "axis": null, "scale": {"domain": [-10, 10], "range": [438, 681], "nice": false, "zero": false}}, "text": {"field": "ci"}}},
    {"transform": [{"filter": "datum.slot == 'h1' || datum.slot == 'h2'"}], "mark": {"type": "text", "align": "center"}, "encoding": {"x": {"datum": 0, "type": "quantitative", "axis": null, "scale": {"domain": [-10, 10], "range": [438, 681], "nice": false, "zero": false}}, "text": {"field": "ci"}}},
    {"transform": [{"filter": "datum.slot == 'cap'"}], "mark": {"type": "rule", "color": "#444", "strokeWidth": 1, "yOffset": -8}, "encoding": {"x": {"datum": -17.98, "type": "quantitative", "axis": null, "scale": {"domain": [-10, 10], "range": [438, 681], "nice": false, "zero": false}}, "x2": {"datum": 10.66}, "y": {"datum": "r1", "type": "nominal"}}},
    {"transform": [{"filter": "datum.slot == 'cap'"}], "mark": {"type": "rule", "color": "#111", "strokeWidth": 1, "yOffset": 16, "y2Offset": -71}, "encoding": {"x": {"datum": 0, "type": "quantitative", "axis": null, "scale": {"domain": [-10, 10], "range": [438, 681], "nice": false, "zero": false}}, "y": {"value": 0}, "y2": {"value": "height"}}},
    {"transform": [{"filter": "isValid(datum.wt)"}], "mark": {"type": "point", "shape": "square", "filled": true, "opacity": 1, "color": "#1c8a1c", "strokeWidth": 0}, "encoding": {"x": {"field": "md", "type": "quantitative", "axis": null, "scale": {"domain": [-10, 10], "range": [438, 681], "nice": false, "zero": false}}, "size": {"field": "wt", "type": "quantitative", "legend": null, "scale": {"domain": [0, 100], "range": [4, 208]}}}},
    {"transform": [{"filter": "datum.slot == 'tot'"}, {"fold": ["lo","md","hi"], "as": ["vk","vx"]}], "mark": {"type": "trail", "color": "#000"}, "encoding": {"x": {"field": "vx", "type": "quantitative", "axis": null, "scale": {"domain": [-10, 10], "range": [438, 681], "nice": false, "zero": false}}, "size": {"field": "vk", "type": "nominal", "legend": null, "scale": {"type": "ordinal", "domain": ["lo","md","hi"], "range": [0, 10, 0]}}, "order": {"field": "vx", "type": "quantitative"}}},
    {"transform": [{"filter": "isValid(datum.fe)"}], "mark": {"type": "text", "align": "right", "dx": -6.5}, "encoding": {"x": {"datum": 0, "type": "quantitative", "axis": null, "scale": {"domain": [-10, 10], "range": [438, 681], "nice": false, "zero": false}}, "text": {"field": "fe"}}},
    {"transform": [{"filter": "isValid(datum.fc)"}], "mark": {"type": "text", "align": "left", "dx": 22.5}, "encoding": {"x": {"datum": 0, "type": "quantitative", "axis": null, "scale": {"domain": [-10, 10], "range": [438, 681], "nice": false, "zero": false}}, "text": {"field": "fc"}}}
  ]
},
{
  "width": 689, "height": 133,
  "data": {"name": "g"},
  "encoding": {"y": {"field": "slot", "type": "nominal", "axis": null, "scale": {"type": "point", "padding": 0, "domain": ["h1","h2","r1","r2","g","tot","het","test","x1","fav","x2","cap"], "range": [3, 127]}}},
  "resolve": {"scale": {"x": "independent"}, "axis": {"x": "independent"}},
  "layer": [
    {"transform": [{"filter": "isValid(datum.study)"}], "mark": {"type": "text", "align": "left", "dx": 2}, "encoding": {"x": {"value": 0}, "text": {"field": "study"}}},
    {"transform": [{"filter": "isValid(datum.cap)"}], "mark": {"type": "text", "align": "center"}, "encoding": {"x": {"value": {"expr": "width / 2"}}, "text": {"field": "cap"}}},
    {"transform": [{"fold": ["me","sde","ne","mc","sdc","nc"], "as": ["key","val"]}, {"filter": "isValid(datum.val)"}], "mark": {"type": "text", "align": "right"}, "encoding": {"x": {"field": "key", "type": "nominal", "axis": null, "scale": {"type": "point", "padding": 0, "domain": ["me","sde","ne","mc","sdc","nc"], "range": [159, 298]}}, "text": {"field": "val"}}},
    {"transform": [{"filter": "isValid(datum.w)"}], "mark": {"type": "text", "align": "right", "dx": 37}, "encoding": {"x": {"datum": "nc", "type": "nominal", "axis": null, "scale": {"type": "point", "padding": 0, "domain": ["me","sde","ne","mc","sdc","nc"], "range": [159, 298]}}, "text": {"field": "w"}}},
    {"transform": [{"filter": "isValid(datum.eh)"}], "mark": {"type": "text", "align": "center", "dx": -16}, "encoding": {"x": {"datum": "sde", "type": "nominal", "axis": null, "scale": {"type": "point", "padding": 0, "domain": ["me","sde","ne","mc","sdc","nc"], "range": [159, 298]}}, "text": {"field": "eh"}}},
    {"transform": [{"filter": "isValid(datum.ch)"}], "mark": {"type": "text", "align": "center", "dx": -13}, "encoding": {"x": {"datum": "sdc", "type": "nominal", "axis": null, "scale": {"type": "point", "padding": 0, "domain": ["me","sde","ne","mc","sdc","nc"], "range": [159, 298]}}, "text": {"field": "ch"}}},
    {"transform": [{"filter": "isValid(datum.wt)"}], "mark": {"type": "rule", "color": "#444", "strokeWidth": 1}, "encoding": {"x": {"field": "lo", "type": "quantitative", "scale": {"domain": [-10, 10], "range": [438, 681], "nice": false, "zero": false}, "axis": {"orient": "bottom", "offset": -56, "values": [-10, -5, 0, 5, 10], "title": null, "format": "d", "encode": {"ticks": {"update": {"y": {"value": -5}}}}}}, "x2": {"field": "hi"}}},
    {"transform": [{"filter": "isValid(datum.ci)"}], "mark": {"type": "text", "align": "right", "dx": -4}, "encoding": {"x": {"datum": -10, "type": "quantitative", "axis": null, "scale": {"domain": [-10, 10], "range": [438, 681], "nice": false, "zero": false}}, "text": {"field": "ci"}}},
    {"transform": [{"filter": "datum.slot == 'h1' || datum.slot == 'h2'"}], "mark": {"type": "text", "align": "center"}, "encoding": {"x": {"datum": 0, "type": "quantitative", "axis": null, "scale": {"domain": [-10, 10], "range": [438, 681], "nice": false, "zero": false}}, "text": {"field": "ci"}}},
    {"transform": [{"filter": "datum.slot == 'cap'"}], "mark": {"type": "rule", "color": "#444", "strokeWidth": 1, "yOffset": -6.5}, "encoding": {"x": {"datum": -17.98, "type": "quantitative", "axis": null, "scale": {"domain": [-10, 10], "range": [438, 681], "nice": false, "zero": false}}, "x2": {"datum": 10.66}, "y": {"datum": "r1", "type": "nominal"}}},
    {"transform": [{"filter": "datum.slot == 'cap'"}], "mark": {"type": "rule", "color": "#111", "strokeWidth": 1, "yOffset": 19, "y2Offset": -56}, "encoding": {"x": {"datum": 0, "type": "quantitative", "axis": null, "scale": {"domain": [-10, 10], "range": [438, 681], "nice": false, "zero": false}}, "y": {"value": 0}, "y2": {"value": "height"}}},
    {"transform": [{"filter": "isValid(datum.wt)"}], "mark": {"type": "point", "shape": "square", "filled": true, "opacity": 1, "color": "#1c8a1c", "strokeWidth": 0}, "encoding": {"x": {"field": "md", "type": "quantitative", "axis": null, "scale": {"domain": [-10, 10], "range": [438, 681], "nice": false, "zero": false}}, "size": {"field": "wt", "type": "quantitative", "legend": null, "scale": {"domain": [0, 100], "range": [4, 220]}}}},
    {"transform": [{"filter": "datum.slot == 'tot'"}, {"fold": ["lo","md","hi"], "as": ["vk","vx"]}], "mark": {"type": "trail", "color": "#000"}, "encoding": {"x": {"field": "vx", "type": "quantitative", "axis": null, "scale": {"domain": [-10, 10], "range": [438, 681], "nice": false, "zero": false}}, "size": {"field": "vk", "type": "nominal", "legend": null, "scale": {"type": "ordinal", "domain": ["lo","md","hi"], "range": [0, 9, 0]}}, "order": {"field": "vx", "type": "quantitative"}}},
    {"transform": [{"filter": "isValid(datum.fe)"}], "mark": {"type": "text", "align": "right", "dx": -6.5}, "encoding": {"x": {"datum": 0, "type": "quantitative", "axis": null, "scale": {"domain": [-10, 10], "range": [438, 681], "nice": false, "zero": false}}, "text": {"field": "fe"}}},
    {"transform": [{"filter": "isValid(datum.fc)"}], "mark": {"type": "text", "align": "left", "dx": 22.5}, "encoding": {"x": {"datum": 0, "type": "quantitative", "axis": null, "scale": {"domain": [-10, 10], "range": [438, 681], "nice": false, "zero": false}}, "text": {"field": "fc"}}}
  ]
}
]
}
